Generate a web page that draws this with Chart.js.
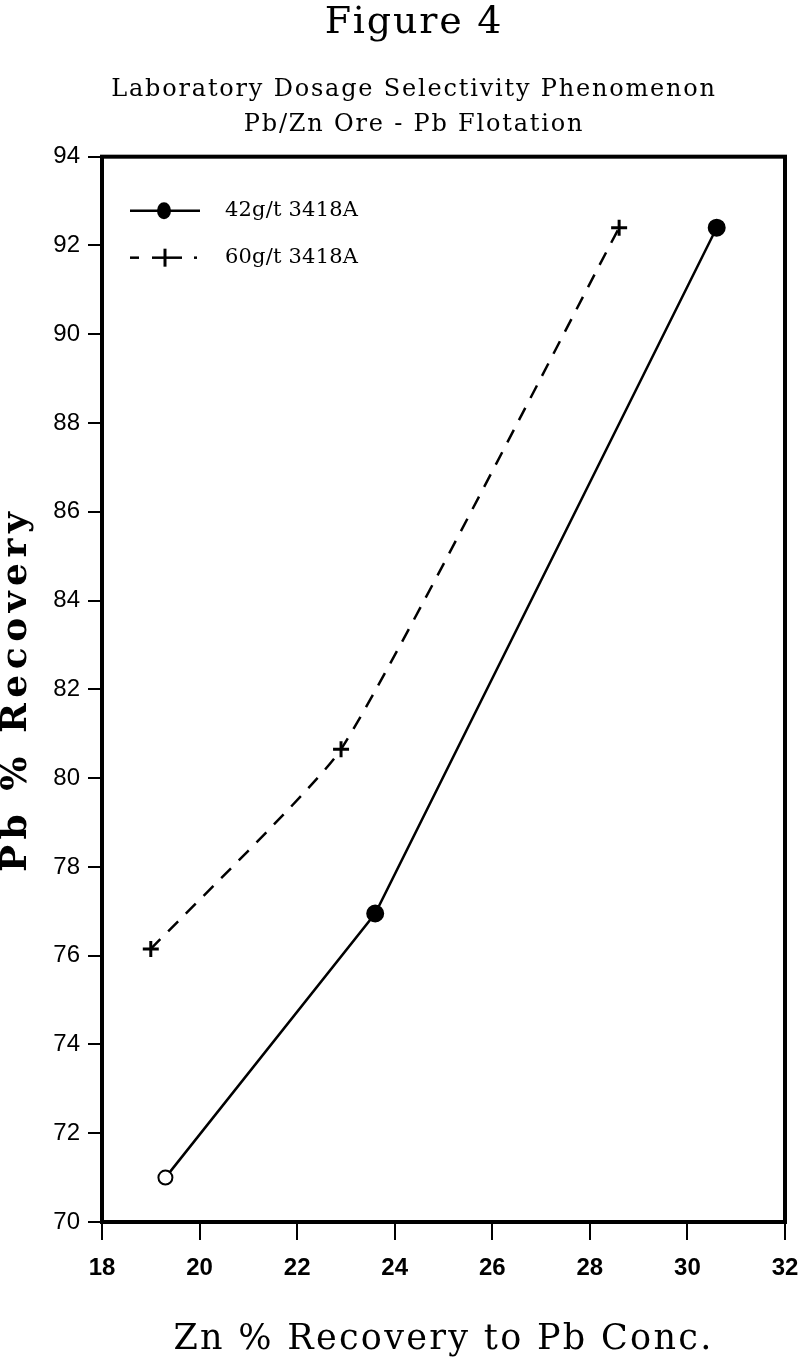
<!DOCTYPE html>
<html>
<head>
<meta charset="utf-8">
<script src="https://cdn.jsdelivr.net/npm/chart.js@4.4.1/dist/chart.umd.min.js"></script>
<style>
  html, body { margin: 0; padding: 0; background: #fff; }
  #wrap { width: 800px; height: 1368px; }
</style>
</head>
<body>
<div id="wrap"><canvas id="c" width="800" height="1368"></canvas></div>
<script>
// ---- data ----
const series42X = [19.3, 23.6, 30.6];
const series42Y = [71.0, 76.95, 92.4];
const series60X = [19.0, 22.9, 28.6];
const series60Y = [76.15, 80.65, 92.4];
const xTicks = [18, 20, 22, 24, 26, 28, 30, 32];
const yTicks = [70, 72, 74, 76, 78, 80, 82, 84, 86, 88, 90, 92, 94];
const seriesLabels = ['42g/t 3418A', '60g/t 3418A'];

const toPts = (xs, ys) => xs.map((x, i) => ({ x: x, y: ys[i] }));

// letter spacing: titles spaced, tick labels not
const spacing = {
  id: 'spacing',
  beforeDraw(chart) {
    chart.ctx.letterSpacing = '1.8px';
    Object.values(chart.scales).forEach(s => {
      if (s._wrappedLS) return;
      const origLabels = s.drawLabels.bind(s);
      s.drawLabels = function (ca) {
        const ctx = this.ctx; const prev = ctx.letterSpacing;
        ctx.letterSpacing = '0px'; origLabels(ca); ctx.letterSpacing = prev;
      };
      const origTitle = s.drawTitle.bind(s);
      const ls = s.axis === 'y' ? '5.5px' : '2.3px';
      s.drawTitle = function (ca) {
        const ctx = this.ctx; const prev = ctx.letterSpacing;
        ctx.letterSpacing = ls; origTitle(ca); ctx.letterSpacing = prev;
      };
      s._wrappedLS = true;
    });
  }
};

const frame = {
  id: 'frame',
  afterDraw(chart) {
    const { ctx, chartArea: a } = chart;
    ctx.save();
    ctx.letterSpacing = '0.2px';
    ctx.strokeStyle = '#000';
    ctx.lineWidth = 4;
    ctx.strokeRect(a.left, a.top, a.right - a.left, a.bottom - a.top);
    // legend inside plot
    const lx = a.left + 28, ly1 = a.top + 54, ly2 = a.top + 101;
    ctx.lineWidth = 2.5;
    ctx.beginPath(); ctx.moveTo(lx, ly1); ctx.lineTo(lx + 70, ly1); ctx.stroke();
    ctx.fillStyle = '#000';
    ctx.beginPath(); ctx.ellipse(lx + 34, ly1, 7, 8.5, 0, 0, Math.PI * 2); ctx.fill();
    ctx.beginPath(); ctx.moveTo(lx, ly2); ctx.lineTo(lx + 9, ly2); ctx.stroke();
    ctx.beginPath(); ctx.moveTo(lx + 22, ly2); ctx.lineTo(lx + 52, ly2); ctx.stroke();
    ctx.beginPath(); ctx.moveTo(lx + 64, ly2); ctx.lineTo(lx + 67, ly2); ctx.stroke();
    ctx.lineWidth = 3;
    ctx.beginPath();
    ctx.moveTo(lx + 35, ly2 - 9); ctx.lineTo(lx + 35, ly2 + 9);
    ctx.stroke();
    ctx.font = '21px "DejaVu Serif"';
    ctx.textBaseline = 'middle';
    ctx.fillText(seriesLabels[0], lx + 95, ly1);
    ctx.fillText(seriesLabels[1], lx + 95, ly2);
    ctx.restore();
  }
};

new Chart(document.getElementById('c'), {
  type: 'scatter',
  data: {
    datasets: [
      {
        label: seriesLabels[0],
        data: toPts(series42X, series42Y),
        showLine: true,
        borderColor: '#000',
        borderWidth: 2.5,
        pointRadius: [7, 8, 8],
        pointBorderWidth: 2,
        pointBorderColor: '#000',
        pointBackgroundColor: ['#fff', '#000', '#000'],
        tension: 0
      },
      {
        label: seriesLabels[1],
        data: toPts(series60X, series60Y),
        showLine: true,
        borderColor: '#000',
        borderWidth: 2.5,
        borderDash: [14, 11],
        pointStyle: 'cross',
        pointRadius: 8,
        pointBorderWidth: 3,
        pointBorderColor: '#000',
        tension: 0.15
      }
    ]
  },
  options: {
    responsive: false,
    animation: false,
    layout: { padding: { left: 28, right: 0, top: 0, bottom: 0 } },
    plugins: {
      legend: { display: false },
      tooltip: { enabled: false },
      title: {
        display: true,
        text: 'Figure 4',
        color: '#000',
        font: { family: '"DejaVu Serif"', size: 38, weight: 'normal', lineHeight: 1.2 },
        padding: { top: 0, bottom: 27 }
      },
      subtitle: {
        display: true,
        text: ['Laboratory Dosage Selectivity Phenomenon', 'Pb/Zn Ore - Pb Flotation'],
        color: '#000',
        font: { family: '"DejaVu Serif"', size: 24, weight: 'normal', lineHeight: 1.46 },
        padding: { top: 0, bottom: 14 }
      }
    },
    scales: {
      x: {
        type: 'linear',
        min: 18, max: 32,
        afterBuildTicks(s) { s.ticks = xTicks.map(v => ({ value: v })); },
        afterFit(s) { s.height = 146; s.paddingLeft = 0; s.paddingRight = 15; },
        grid: { drawOnChartArea: false, drawTicks: true, tickLength: 18, color: '#000', lineWidth: 2 },
        border: { display: true, color: '#000', width: 4 },
        ticks: { color: '#000', padding: 14, font: { family: '"Liberation Sans"', size: 24, weight: 'bold' } },
        title: {
          display: true,
          text: 'Zn % Recovery to Pb Conc.',
          color: '#000',
          font: { family: '"DejaVu Serif"', size: 35, lineHeight: 1.2 },
          padding: { top: 0, bottom: 7 }
        }
      },
      y: {
        type: 'linear',
        min: 70, max: 94,
        afterBuildTicks(s) { s.ticks = yTicks.map(v => ({ value: v })); },
        afterFit(s) { s.width = 74; },
        grid: { drawOnChartArea: false, drawTicks: true, tickLength: 14, color: '#000', lineWidth: 2 },
        border: { display: true, color: '#000', width: 4 },
        ticks: { color: '#000', padding: 8, font: { family: '"Liberation Sans"', size: 24 } },
        title: {
          display: true,
          text: 'Pb % Recovery',
          color: '#000',
          font: { family: '"DejaVu Serif"', size: 36, weight: 'bold', lineHeight: 1 },
          padding: { top: -29, bottom: 0 }
        }
      }
    }
  },
  plugins: [spacing, frame]
});
</script>
</body>
</html>
